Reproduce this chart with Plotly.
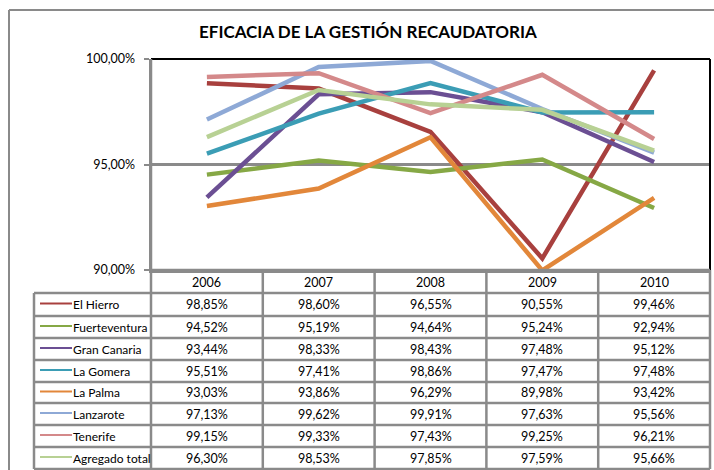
import plotly.graph_objects as go

# ---------------- data ----------------
years = ["2006", "2007", "2008", "2009", "2010"]
series_names = ["El Hierro", "Fuerteventura", "Gran Canaria", "La Gomera",
                "La Palma", "Lanzarote", "Tenerife", "Agregado total"]
el_hierro = [98.85, 98.60, 96.55, 90.55, 99.46]
fuerteventura = [94.52, 95.19, 94.64, 95.24, 92.94]
gran_canaria = [93.44, 98.33, 98.43, 97.48, 95.12]
la_gomera = [95.51, 97.41, 98.86, 97.47, 97.48]
la_palma = [93.03, 93.86, 96.29, 89.98, 93.42]
lanzarote = [97.13, 99.62, 99.91, 97.63, 95.56]
tenerife = [99.15, 99.33, 97.43, 99.25, 96.21]
agregado = [96.30, 98.53, 97.85, 97.59, 95.66]
series_values = [el_hierro, fuerteventura, gran_canaria, la_gomera,
                 la_palma, lanzarote, tenerife, agregado]
y_tick_vals = [90, 95, 100]
y_tick_text = ["90,00%", "95,00%", "100,00%"]
title_text = "EFICACIA DE LA GESTIÓN RECAUDATORIA"

colors = ["#A8403E", "#86A845", "#6B4F93", "#3B9DB5",
          "#E2873A", "#8EA9D6", "#D4898A", "#B8D194"]

# ---------------- layout geometry (pixels) ----------------
W, H = 714, 470
PL, PR, PT, PB = 151, 710, 59, 270   # plot area
FONT = "Lato"
GRID = "#8A8A8A"

def py(p):   # pixel y -> paper y
    return (PB - p) / (PB - PT)

def px(p):   # pixel x -> paper x
    return (p - PL) / (PR - PL)

fig = go.Figure()
for name, vals, col in zip(series_names, series_values, colors):
    fig.add_trace(go.Scatter(x=list(range(len(years))), y=vals, mode="lines",
                             name=name, line=dict(color=col, width=4.5),
                             showlegend=False))

shapes = []
annotations = []

# plot-area border: top and right black
shapes.append(dict(type="line", xref="paper", yref="paper", x0=0, x1=1, y0=1, y1=1,
                   line=dict(color="black", width=2)))
shapes.append(dict(type="line", xref="paper", yref="paper", x0=1, x1=1, y0=0, y1=1,
                   line=dict(color="black", width=2)))

# outer chart border (left + top)
shapes.append(dict(type="line", xref="paper", yref="paper", x0=px(9), x1=px(W + 5),
                   y0=py(10), y1=py(10), line=dict(color=GRID, width=2)))
shapes.append(dict(type="line", xref="paper", yref="paper", x0=px(9), x1=px(9),
                   y0=py(10), y1=py(H + 5), line=dict(color=GRID, width=2)))

# table geometry
row_lines = [270, 293, 316, 338, 360, 382, 403, 425, 447, 469]
col_lines = [PL + i * (PR - PL) / 5 for i in range(6)]
LEG_X = 34
for i, yl in enumerate(row_lines):
    x0 = PL if i == 0 else LEG_X
    shapes.append(dict(type="line", xref="paper", yref="paper", x0=px(x0), x1=px(PR),
                       y0=py(yl), y1=py(yl), line=dict(color=GRID, width=2.5)))
for i, xl in enumerate(col_lines):
    top = PT if i == 0 else row_lines[0]
    shapes.append(dict(type="line", xref="paper", yref="paper", x0=px(xl), x1=px(xl),
                       y0=py(top), y1=py(row_lines[-1]), line=dict(color=GRID, width=2.5)))
shapes.append(dict(type="line", xref="paper", yref="paper", x0=px(LEG_X), x1=px(LEG_X),
                   y0=py(row_lines[1]), y1=py(row_lines[-1]), line=dict(color=GRID, width=2.5)))

TFONT = dict(family=FONT, size=12.5, color="black")
LFONT = dict(family=FONT, size=12, color="black")
# header row (years)
for j, yr in enumerate(years):
    annotations.append(dict(x=j, xref="x", y=py((row_lines[0] + row_lines[1]) / 2 + 1),
                            yref="paper", text=yr, showarrow=False,
                            xanchor="center", yanchor="middle", font=TFONT))
# data rows
for i, (name, vals, col) in enumerate(zip(series_names, series_values, colors)):
    yc = (row_lines[i + 1] + row_lines[i + 2]) / 2
    shapes.append(dict(type="line", xref="paper", yref="paper", x0=px(40), x1=px(72),
                       y0=py(yc - 1), y1=py(yc - 1), line=dict(color=col, width=2)))
    annotations.append(dict(x=px(71), xref="paper", y=py(yc), yref="paper", text=name,
                            xanchor="left", yanchor="middle", showarrow=False,
                            font=LFONT))
    for j, v in enumerate(vals):
        txt = f"{v:.2f}%".replace(".", ",")
        annotations.append(dict(x=j, xref="x", y=py(yc), yref="paper", text=txt,
                                showarrow=False, xanchor="center", yanchor="middle",
                                font=TFONT))

# title
annotations.append(dict(x=px(368), xref="paper", y=py(32), yref="paper",
                        text=f"<b>{title_text}</b>", showarrow=False,
                        xanchor="center", yanchor="middle",
                        font=dict(family=FONT, size=17, color="black")))

fig.update_layout(
    width=W, height=H,
    margin=dict(l=PL, r=W - PR, t=PT, b=H - PB, pad=0),
    paper_bgcolor="white", plot_bgcolor="white",
    hovermode=False,
    xaxis=dict(range=[-0.5, 4.5], showgrid=False, zeroline=False, showticklabels=False,
               showline=True, linecolor=GRID, linewidth=2.5, ticks=""),
    yaxis=dict(range=[90, 100], tickvals=y_tick_vals, ticktext=y_tick_text,
               showgrid=True, gridcolor=GRID, gridwidth=2.5, zeroline=False,
               showline=True, linecolor=GRID, linewidth=2.5,
               ticks="outside", ticklen=5, tickcolor=GRID, tickwidth=2,
               ticklabelstandoff=6,
               tickfont=dict(family=FONT, size=12.5, color="black")),
    shapes=shapes, annotations=annotations,
)

fig.write_html("out.html", config={"displayModeBar": False, "staticPlot": True},
               post_script="document.body.style.margin='0';document.body.style.overflow='hidden';")
